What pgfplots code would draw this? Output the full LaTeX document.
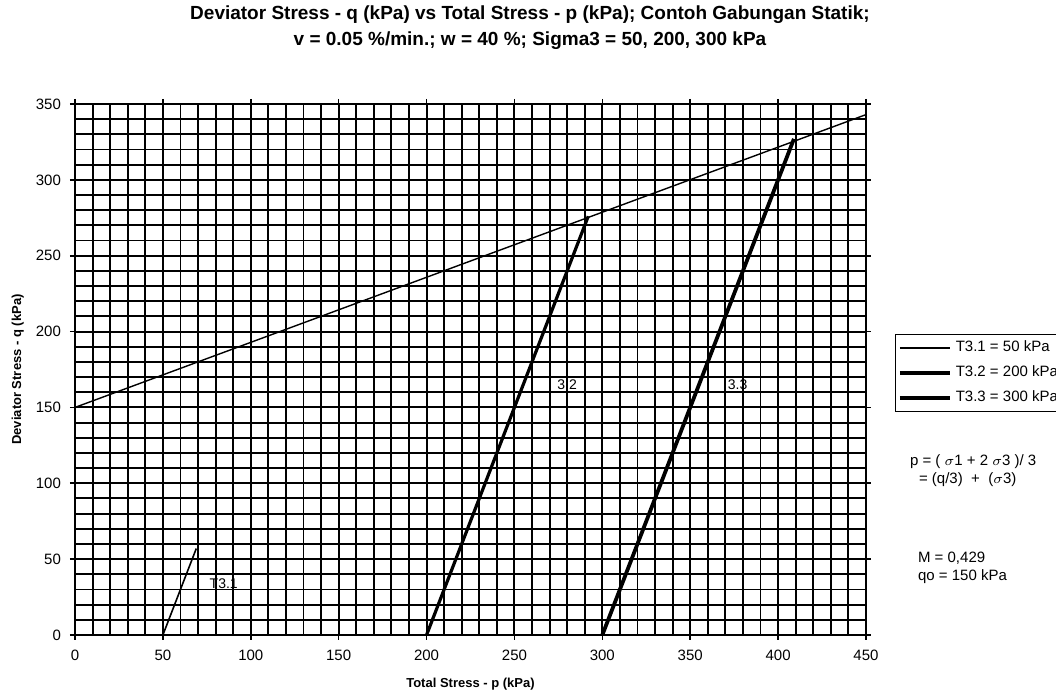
\documentclass[border=0pt]{standalone}
\usepackage{pgfplots}
\pgfplotsset{compat=1.18}
\usepackage{fontspec}
\setmainfont{Liberation Sans}

% stress paths and failure envelope (p, q in kPa)
\pgfplotstableread{
p q
0 150
450 343
}\envelope
\pgfplotstableread{
p q
50 0
69 57
}\pathA
\pgfplotstableread{
p q
200 0
292 276
}\pathB
\pgfplotstableread{
p q
300 0
409 327
}\pathC

\begin{document}
\begin{tikzpicture}[x=0.5pt,y=0.5pt]
% page frame, measured from the lower left corner of the plot box
\useasboundingbox (-75,-59) rectangle (981,635);
\begin{axis}[
  at={(0,0)}, anchor=south west,
  scale only axis, width=395.5pt, height=265.5pt,
  xmin=0, xmax=450, ymin=0, ymax=350,
  xtick distance=50, ytick distance=50,
  minor x tick num=4, minor y tick num=4,
  grid=both,
  major grid style={black, line width=0.95pt},
  minor grid style={black, line width=0.95pt},
  axis line style={black, line width=0.95pt},
  tick align=outside, major tick length=2.5pt, minor tick length=0pt,
  tick style={black, line width=0.8pt},
  ticklabel style={font=\fontsize{7.5}{9}\selectfont},
  xticklabel style={yshift=-1.5pt},
  yticklabel style={xshift=-1pt},
  /pgf/number format/assume math mode=true,
  xlabel={Total Stress - p (kPa)},
  ylabel={Deviator Stress - q (kPa)},
  label style={font=\bfseries\fontsize{6.5}{8}\selectfont},
  xlabel style={at={(axis description cs:0.5,0)}, anchor=north, yshift=-18pt},
  ylabel style={at={(axis description cs:0,0.5)}, anchor=south, yshift=22pt},
  legend style={at={(axis description cs:1.0367,0.567)}, anchor=north west,
    draw=black, line width=0.6pt, inner sep=1.2pt,
    font=\fontsize{7.5}{9}\selectfont, row sep=1.6pt,
    cells={anchor=west}},
  legend image code/.code={\draw[#1] (0pt,0pt) -- (25pt,0pt);},
  clip=false,
]
\addplot[black, line width=0.7pt, forget plot] table[x=p,y=q] {\envelope};
\addplot[black, line width=0.8pt] table[x=p,y=q] {\pathA};
\addplot[black, line width=1.6pt] table[x=p,y=q] {\pathB};
\addplot[black, line width=1.9pt] table[x=p,y=q] {\pathC};
\legend{T3.1 = 50 kPa, T3.2 = 200 kPa, T3.3 = 300 kPa}
\node[font=\fontsize{7}{8}\selectfont] at (axis cs:84.6,34) {T3.1};
\node[font=\fontsize{7}{8}\selectfont] at (axis cs:280,165) {3.2};
\node[font=\fontsize{7}{8}\selectfont] at (axis cs:377,165) {3.3};
\end{axis}
% title
\node[font=\bfseries\fontsize{9.5}{13}\selectfont, align=center] at (455,607)
  {Deviator Stress - q (kPa) vs Total Stress - p (kPa); Contoh Gabungan Statik;\\
   v = 0.05 \%/min.; w = 40 \%; Sigma3 = 50, 200, 300 kPa};
% relations beside the chart
\node[font=\fontsize{7.5}{9}\selectfont, anchor=west] at (828,173)
  {p = ( \(\sigma\)1 + 2 \(\sigma\)3 )/ 3};
\node[font=\fontsize{7.5}{9}\selectfont, anchor=west] at (837,155)
  {= (q/3) \ + \ (\(\sigma\)3)};
\node[font=\fontsize{7.5}{9}\selectfont, anchor=west, align=left] at (836,67)
  {M = 0,429\\qo = 150 kPa};
\end{tikzpicture}
\end{document}
